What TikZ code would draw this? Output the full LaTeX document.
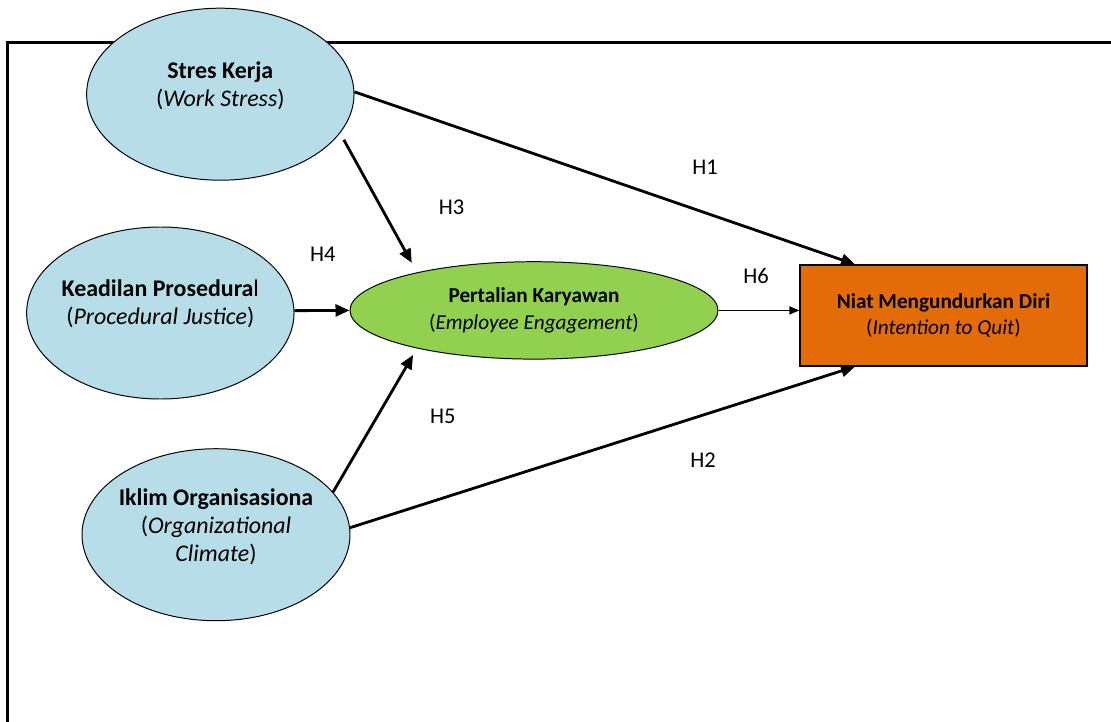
\documentclass[tikz,border=0pt]{standalone}
\usepackage{fontspec}
\setmainfont{Carlito}
\usetikzlibrary{arrows.meta,shapes.geometric}

\definecolor{birumuda}{HTML}{B7DDE8}
\definecolor{hijau}{HTML}{92D050}
\definecolor{oranye}{HTML}{E36C09}

\tikzset{
  variabel/.style={ellipse, draw, line width=0.7pt, fill=birumuda,
    inner xsep=-4pt, inner ysep=0pt, align=center, text depth=14pt,
    minimum width=6.685cm, minimum height=4.3cm,
    font=\fontsize{17}{20}\selectfont},
  mediasi/.style={variabel, fill=hijau, text depth=, minimum width=9.2cm,
    minimum height=2.435cm, font=\fontsize{15.1}{18.8}\selectfont},
  terikat/.style={rectangle, draw, line width=0.8pt, fill=oranye,
    align=center, minimum width=7.175cm, minimum height=2.525cm,
    font=\fontsize{15.1}{19}\selectfont},
  hipotesis/.style={inner sep=0pt, font=\fontsize{16}{19}\selectfont},
  panah/.style={line width=2pt, -{Triangle[length=0.35cm,width=0.3cm]}},
  panahtipis/.style={line width=1pt, -{Triangle[length=0.25cm,width=0.2cm]}},
  bingkai/.style={line width=1.6pt}
}

\begin{document}
\begin{tikzpicture}
  \useasboundingbox (0,0) rectangle (27.775,-18.05);
  % bingkai luar
  \draw[bingkai] (28.5,-1.065) -| (0.19,-19);

  % variabel
  \node[variabel] (stres) at (5.508,-2.355)
    {\textbf{Stres Kerja}\\(\textit{Work Stress})};
  \node[variabel, text depth=15.5pt] (keadilan) at (4.008,-7.825)
    {\textbf{Keadilan Prosedura}l\\(\textit{Procedural Justice})};
  \node[variabel, minimum width=6.7cm] (iklim) at (5.4,-13.368)
    {\textbf{Iklim Organisasiona}\\(\textit{Organizational}\\\textit{Climate})};
  \node[mediasi] (eng) at (13.35,-7.76)
    {\textbf{Pertalian Karyawan}\\(\textit{Employee Engagement})};
  \node[terikat] (niat) at (23.5875,-7.8875)
    {\textbf{Niat Mengundurkan Diri}\\(\textit{Intention to Quit})};

  % hubungan
  \draw[panah] (stres.1) -- (niat.150);
  \draw[panah] (iklim.3) -- (niat.-150);
  \draw[panah, shorten <=0.19cm, shorten >=0.27cm] (stres.-18) -- (eng.162);
  \draw[panah] (keadilan.1) -- (eng.west);
  \draw[panah, shorten >=0.19cm] (iklim.20) -- (eng.198);
  \draw[panahtipis] (eng.east) -- (eng.east -| niat.west);

  % label hipotesis
  \node[hipotesis] (h1) at (17.625,-4.175) {H1};
  \node[hipotesis] (h2) at (17.575,-11.5) {H2};
  \node[hipotesis] (h3) at (11.29,-5.17) {H3};
  \node[hipotesis] (h4) at (8.07,-6.35) {H4};
  \node[hipotesis] (h5) at (11.07,-10.42) {H5};
  \node[hipotesis] (h6) at (18.9,-6.9) {H6};
\end{tikzpicture}
\end{document}
